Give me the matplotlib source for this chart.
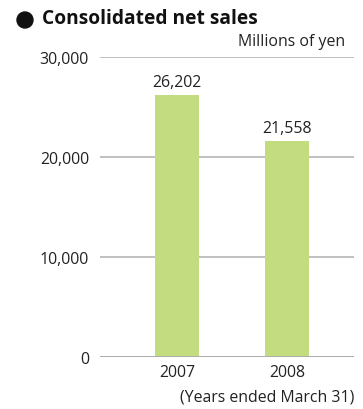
import matplotlib
matplotlib.use("Agg")
import matplotlib.pyplot as plt
from matplotlib.patches import Ellipse

years = ["2007", "2008"]
net_sales = [26202, 21558]
y_ticks = [0, 10000, 20000, 30000]
y_tick_labels = ["0", "10,000", "20,000", "30,000"]

plt.rcParams["font.family"] = ["Open Sans", "DejaVu Sans"]
fs = 11.4
W, H = 363, 410

fig = plt.figure(figsize=(W / 100, H / 100), dpi=100)
ax = fig.add_axes([100 / W, 52 / H, 254 / W, 300 / H])

x = list(range(len(years)))
ax.bar(x, net_sales, width=0.4, color="#c4dc80", zorder=3)

for xi, v in zip(x, net_sales):
    ax.text(xi, v + 500, f"{v:,}", ha="center", va="bottom", fontsize=fs, color="#222222")

ax.set_xlim(-0.7, 1.609)
ax.set_ylim(0, 30000)
ax.set_yticks(y_ticks)
ax.set_yticklabels(y_tick_labels, fontsize=fs, color="#222222")
ax.set_xticks(x)
ax.set_xticklabels(years, fontsize=fs, color="#222222")
ax.tick_params(axis="both", length=0)
ax.tick_params(axis="y", pad=8)
ax.tick_params(axis="x", pad=5)
ax.yaxis.grid(True, color="#bbbbbb", linewidth=1.3, zorder=0)
for s in ax.spines.values():
    s.set_visible(False)
ax.axhline(0, color="#aaaaaa", linewidth=1.3, zorder=4)

# round bullet before the heading
fig.add_artist(Ellipse((25 / W, 1 - 21 / H), 16 / W, 16 / H,
                       transform=fig.transFigure, color="#111111"))
fig.text(42 / W, 1 - 19 / H, "Consolidated net sales", fontsize=13.8,
         fontweight="bold", ha="left", va="center", color="#111111")
fig.text(345 / W, 1 - 42 / H, "Millions of yen", fontsize=fs,
         ha="right", va="center", color="#222222")
fig.text(354 / W, 1 - 398 / H, "(Years ended March 31)", fontsize=fs,
         ha="right", va="center", color="#222222")

fig.savefig("out.png", dpi=100)
